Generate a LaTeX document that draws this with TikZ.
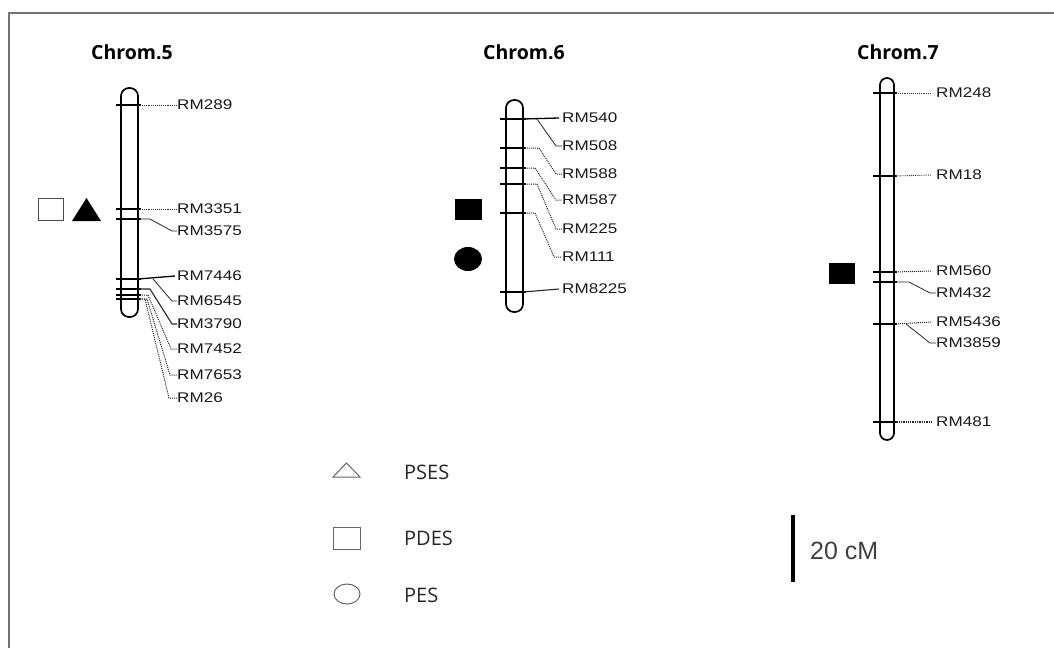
\documentclass[tikz,border=0pt]{standalone}
\usepackage{fontspec}
\setmainfont{Liberation Sans}
\newfontfamily\mkfont[FakeStretch=1.22]{Liberation Sans}
\newfontfamily\ttlfont{Open Sans}
\begin{document}
\begin{tikzpicture}[x=1pt,y=-1pt,
  rod/.style={draw=black, line width=1.7pt, fill=white, rounded corners=8pt},
  tick/.style={line width=1.3pt},
  dot/.style={densely dotted, line width=0.9pt, black!80},
  lead/.style={line width=0.8pt, black!85},
  dlead/.style={densely dotted, line width=1pt, black!85},
  mk/.style={font=\mkfont\fontsize{14}{15}\selectfont, anchor=west, inner sep=0pt, text=black!90},
  ttl/.style={font=\ttlfont\bfseries\fontsize{19.5}{20}\selectfont, anchor=west, inner sep=0pt},
  leg/.style={draw=black!60, line width=1pt},
  lgt/.style={font=\ttlfont\fontsize{20}{21}\selectfont, anchor=west, inner sep=0pt, text=black!85},
  filled/.style={fill=black, draw=black}]
\useasboundingbox (0,0) rectangle (1054,648);
\draw[black!55, line width=1.5pt] (1054,13) -- (9,13) -- (9,648);

% ---------- Chrom.5 ----------
\node[ttl] (t5) at (91,52) {Chrom.5};
\draw[rod] (121,88) rectangle (138,317);
\foreach \y in {105,209,219,279,289,295,299} \draw[tick] (116,\y) -- (141,\y);
\coordinate (c5a) at (138,105);
\coordinate (c5b) at (138,209);
\coordinate (c5c) at (138,219);
\coordinate (c5d) at (138,279);
\coordinate (c5e) at (138,289);
\coordinate (c5f) at (138,295);
\coordinate (c5g) at (138,299);
\node[mk] (rm289) at (177,105) {RM289};
\node[mk] (rm3351) at (177,209) {RM3351};
\node[mk] (rm3575) at (177,231) {RM3575};
\node[mk] (rm7446) at (177,276) {RM7446};
\node[mk] (rm6545) at (177,301) {RM6545};
\node[mk] (rm3790) at (177,324) {RM3790};
\node[mk] (rm7452) at (177,349) {RM7452};
\node[mk] (rm7653) at (177,375) {RM7653};
\node[mk] (rm26) at (177,398) {RM26};
\draw[dot] (c5a) -- (rm289.west);
\draw[dot] (c5b) -- (rm3351.west);
\draw[lead] (c5c) -- ++(12,0) -- ([xshift=-5pt]rm3575.west) -- (rm3575.west);
\draw[tick] (c5d) -- ([xshift=-2pt]rm7446.west);
\draw[lead] (c5d) ++(15,0) -- ([xshift=-5pt]rm6545.west) -- (rm6545.west);
\draw[lead, line width=1.1pt] (c5e) -- ++(12,0) -- ([xshift=-5pt]rm3790.west) -- (rm3790.west);
\draw[dlead] (c5f) -- ++(10,0) -- ([xshift=-6pt]rm7452.west) -- (rm7452.west);
\draw[dlead] (c5g) -- ++(9,0) -- ([xshift=-7pt]rm7653.west) -- (rm7653.west);
\draw[dlead] (c5g) -- ++(7,0) -- ([xshift=-8pt]rm26.west) -- (rm26.west);
\draw[draw=black!70, line width=0.9pt] (38,198) rectangle (63,220);
\fill[black] (72,221) -- (101,221) -- (86.5,198) -- cycle;

% ---------- Chrom.6 ----------
\node[ttl] (t6) at (483,52) {Chrom.6};
\draw[rod] (506,100) rectangle (523,312);
\foreach \y in {119,148,168,184,213,292} \draw[tick] (500,\y) -- (526,\y);
\coordinate (c6a) at (523,119);
\coordinate (c6b) at (523,148);
\coordinate (c6c) at (523,168);
\coordinate (c6d) at (523,184);
\coordinate (c6e) at (523,213);
\coordinate (c6f) at (523,292);
\node[mk] (rm540) at (562,118) {RM540};
\node[mk] (rm508) at (562,146) {RM508};
\node[mk] (rm588) at (562,174) {RM588};
\node[mk] (rm587) at (562,200) {RM587};
\node[mk] (rm225) at (562,229) {RM225};
\node[mk] (rm111) at (562,257) {RM111};
\node[mk] (rm8225) at (562,289) {RM8225};
\draw[tick] (c6a) -- ([xshift=-3pt]rm540.west);
\draw[lead] (c6a) ++(14,0) -- ([xshift=-6pt]rm508.west) -- (rm508.west);
\draw[dlead] (c6b) -- ++(16,0) -- ([xshift=-6pt]rm588.west) -- (rm588.west);
\draw[dlead] (c6c) -- ++(12,0) -- ([xshift=-6pt]rm587.west) -- (rm587.west);
\draw[dlead] (c6d) -- ++(14,0) -- ([xshift=-6pt]rm225.west) -- (rm225.west);
\draw[dlead] (c6e) -- ++(12,0) -- ([xshift=-8pt]rm111.west) -- (rm111.west);
\draw[lead, line width=1.1pt] (c6f) -- ([xshift=-3pt]rm8225.west);
\fill[black] (455,199) rectangle (482,220);
\fill[black] (468,259) ellipse [x radius=14, y radius=12];

% ---------- Chrom.7 ----------
\node[ttl] (t7) at (857,52) {Chrom.7};
\draw[rod, rounded corners=7pt] (880,78) rectangle (894,440);
\foreach \y in {93,176,272,282,324,422} \draw[tick] (873,\y) -- (897,\y);
\coordinate (c7a) at (894,93);
\coordinate (c7b) at (894,176);
\coordinate (c7c) at (894,272);
\coordinate (c7d) at (894,282);
\coordinate (c7e) at (894,324);
\coordinate (c7f) at (894,422);
\node[mk] (rm248) at (936,93) {RM248};
\node[mk] (rm18) at (936,175) {RM18};
\node[mk] (rm560) at (936,271) {RM560};
\node[mk] (rm432) at (936,293) {RM432};
\node[mk] (rm5436) at (936,322) {RM5436};
\node[mk] (rm3859) at (936,343) {RM3859};
\node[mk] (rm481) at (936,422) {RM481};
\draw[dot] (c7a) -- ([xshift=-4pt]rm248.west);
\draw[dot] (c7b) -- ([xshift=-4pt]rm18.west);
\draw[dlead] (c7c) -- ([xshift=-4pt]rm560.west);
\draw[lead] (c7d) -- ++(15,0) -- ([xshift=-6pt]rm432.west) -- (rm432.west);
\draw[dlead] (c7e) -- ([xshift=-4pt]rm5436.west);
\draw[lead] (c7e) ++(12,0) -- ([xshift=-6pt]rm3859.west) -- (rm3859.west);
\draw[dlead, line width=1.3pt] (c7f) -- ([xshift=-4pt]rm481.west);
\fill[black] (829,263) rectangle (855,284);

% ---------- Legend ----------
\draw[leg] (333,477) -- (360,477) -- (346.5,463) -- cycle;
\draw[leg] (333,527) rectangle (360,549);
\draw[leg] (347,594) ellipse [x radius=13, y radius=10];
\node[lgt] (pses) at (404,472) {PSES};
\node[lgt] (pdes) at (404,538) {PDES};
\node[lgt] (pes) at (404,595) {PES};

% ---------- scale ----------
\draw[line width=3.5pt] (793,515) -- (793,582);
\node[font=\fontsize{25}{26}\selectfont, anchor=west, inner sep=0pt, text=black!75] (cm) at (810,551) {20 cM};
\end{tikzpicture}
\end{document}
